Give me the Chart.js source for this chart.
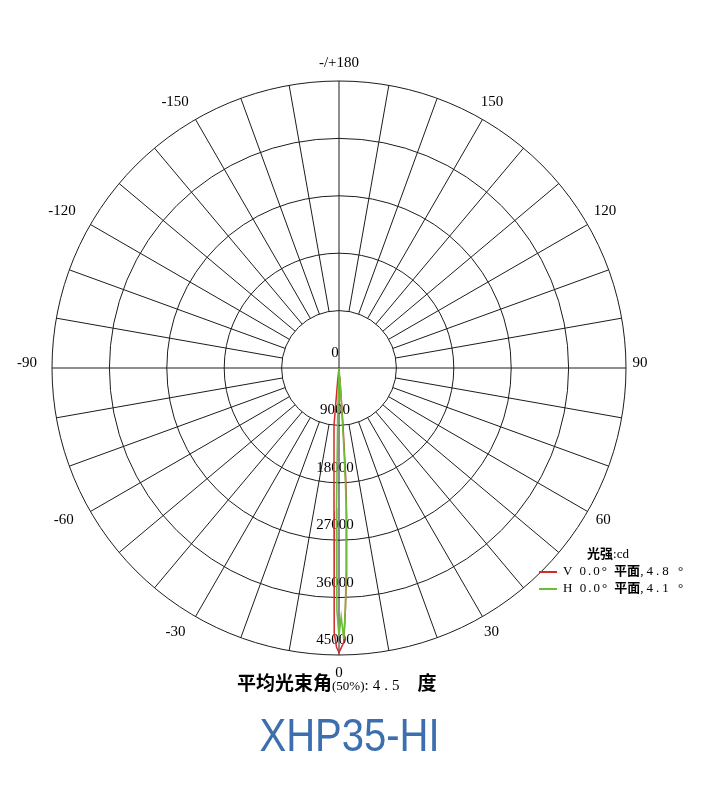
<!DOCTYPE html>
<html>
<head>
<meta charset="utf-8">
<script src="https://cdn.jsdelivr.net/npm/chart.js@4.4.1/dist/chart.umd.min.js"></script>
<style>
body { margin: 0; background: #fff; }
#wrap { position: relative; width: 705px; height: 791px; }
#grafico { position: absolute; left: 0; top: 0; }
.serif { font-family: "Liberation Serif", "DejaVu Serif", serif; font-weight: normal; }
.cjk { font-family: "Noto Sans CJK SC", sans-serif; font-weight: 700; }
#leyenda { position: absolute; left: 539px; top: 544px; font-size: 13px; color: #000; }
#leyenda .fila { position: relative; height: 17px; line-height: 17px; white-space: nowrap; }
#leyenda .muestra { display: inline-block; width: 18px; height: 2px; vertical-align: middle; margin-right: 6px; }
#haz { position: absolute; left: 237px; top: 670px; line-height: 24px; white-space: nowrap; color: #000; }
#titulo { position: absolute; left: 0; width: 700px; top: 712px; text-align: center; font-family: "Liberation Sans", Arial, sans-serif; font-size: 46px; line-height: 46px; color: #3d6fae; }
#titulo span { display: inline-block; transform: scaleX(0.87); }
</style>
</head>
<body>
<div id="wrap">
  <canvas id="grafico" width="705" height="791"></canvas>
  <div id="leyenda"></div>
  <div id="haz"><span class="cjk" style="font-size:19px">平均光束角</span><span class="serif" style="font-size:13px">(50%)</span><span class="serif" style="font-size:15px;letter-spacing:4px">:4.5</span><span class="cjk" style="font-size:19px;margin-left:14px">度</span></div>
  <div id="titulo"><span>XHP35-HI</span></div>
</div>
<script>
// intensidad luminosa (cd) por angulo, planos V y H
const angulos = [-7, -6, -5, -4, -3, -2, -1.5, -1, -0.5, 0, 0.5, 1, 1.5, 2, 2.5, 3, 3.5, 4, 5, 6, 7];
const planoV = [0, 2000, 9000, 11200, 15000, 22400, 29800, 41500, 43800, 44600, 43800, 43000, 38000, 33000, 27000, 23000, 17000, 9000, 1500, 300, 0];
const planoH = [0, 0, 0, 0, 0, 1500, 8000, 22000, 38000, 42000, 39000, 42500, 38000, 32000, 26500, 21000, 13000, 5000, 500, 0, 0];

const anillos = [9000, 18000, 27000, 36000, 45000];
const angulosEtiqueta = [0, 30, 60, 90, 120, 150, 180, -150, -120, -90, -60, -30];
const textosEtiqueta = ['0', '30', '60', '90', '120', '150', '-/+180', '-150', '-120', '-90', '-60', '-30'];

const nombresSerie = ['V 0.0°', 'H 0.0°'];
const angulosHaz = ['4.8', '4.1'];
const colores = ['#d22b2b', '#6dbd38'];

const maxCd = anillos[anillos.length - 1];

function aXY(ang, val) {
  const t = ang * Math.PI / 180;
  return { x: val * Math.sin(t), y: -val * Math.cos(t) };
}

// rejilla polar dibujada con las escalas x/y del grafico
const rejillaPolar = {
  id: 'rejillaPolar',
  beforeDatasetsDraw(chart) {
    const ctx = chart.ctx;
    const sx = chart.scales.x, sy = chart.scales.y;
    const cx = sx.getPixelForValue(0), cy = sy.getPixelForValue(0);
    const radio = v => sx.getPixelForValue(v) - cx;
    const R = radio(maxCd);
    ctx.save();
    ctx.strokeStyle = '#1c1c1c';
    ctx.lineWidth = 1;
    anillos.forEach(v => {
      ctx.beginPath();
      ctx.arc(cx, cy, radio(v), 0, Math.PI * 2);
      ctx.stroke();
    });
    for (let a = -170; a <= 180; a += 10) {
      const t = a * Math.PI / 180;
      const r0 = (a % 90 === 0) ? 0 : radio(anillos[0]);
      ctx.beginPath();
      ctx.moveTo(cx + r0 * Math.sin(t), cy + r0 * Math.cos(t));
      ctx.lineTo(cx + R * Math.sin(t), cy + R * Math.cos(t));
      ctx.stroke();
    }
    ctx.fillStyle = '#000';
    ctx.font = '15px "Liberation Serif", serif';
    ctx.textAlign = 'center';
    ctx.textBaseline = 'middle';
    // etiquetas de intensidad sobre cada anillo
    [0].concat(anillos).forEach(v => {
      ctx.fillText(String(v), cx - 4, cy + radio(v) - 15);
    });
    // etiquetas de angulo
    angulosEtiqueta.forEach((a, i) => {
      const t = a * Math.PI / 180;
      const s2 = Math.pow(Math.sin(t), 2);
      let rr = R + 18, dy = 0;
      if (Math.abs(a) === 90) { rr = R + 14; dy = -5; }
      else if (Math.abs(a) > 90) { rr = R + 18 + 3 * s2; dy = -5 * s2; }
      let px = cx + rr * Math.sin(t);
      const py = cy + rr * Math.cos(t) + dy;
      if (a < 0) px -= 11;
      ctx.fillText(textosEtiqueta[i], px, py);
    });
    ctx.restore();
  }
};

const datosV = angulos.map((a, i) => aXY(a, planoV[i]));
const datosH = angulos.map((a, i) => aXY(a, planoH[i]));

new Chart(document.getElementById('grafico'), {
  type: 'scatter',
  data: {
    datasets: [
      { label: nombresSerie[0], data: datosV, showLine: true, borderColor: colores[0], backgroundColor: colores[0], borderWidth: 1.5, pointRadius: 0, order: 1 },
      { label: nombresSerie[1], data: datosH, showLine: true, borderColor: colores[1], backgroundColor: colores[1], borderWidth: 1.6, pointRadius: 0, order: 0 }
    ]
  },
  options: {
    responsive: false,
    animation: false,
    layout: { autoPadding: false, padding: { left: 52, right: 79, top: 81, bottom: 136 } },
    scales: {
      x: { type: 'linear', min: -maxCd, max: maxCd, display: false },
      y: { type: 'linear', min: -maxCd, max: maxCd, display: false }
    },
    plugins: { legend: { display: false }, tooltip: { enabled: false } }
  },
  plugins: [rejillaPolar]
});

// leyenda
const leyenda = document.getElementById('leyenda');
leyenda.innerHTML = `<div class="fila" style="padding-left:48px"><span class="cjk">光强</span><span class="serif">:cd</span></div>`;
nombresSerie.forEach((n, i) => {
  let plantilla = `
    <div class="fila"><span class="muestra" style="background:${colores[i]}"></span><span class="serif" style="letter-spacing:2px">${n} </span><span class="cjk">平面</span><span class="serif" style="letter-spacing:3px">,${angulosHaz[i]} °</span></div>
  `;
  leyenda.innerHTML += plantilla;
});
</script>
</body>
</html>
